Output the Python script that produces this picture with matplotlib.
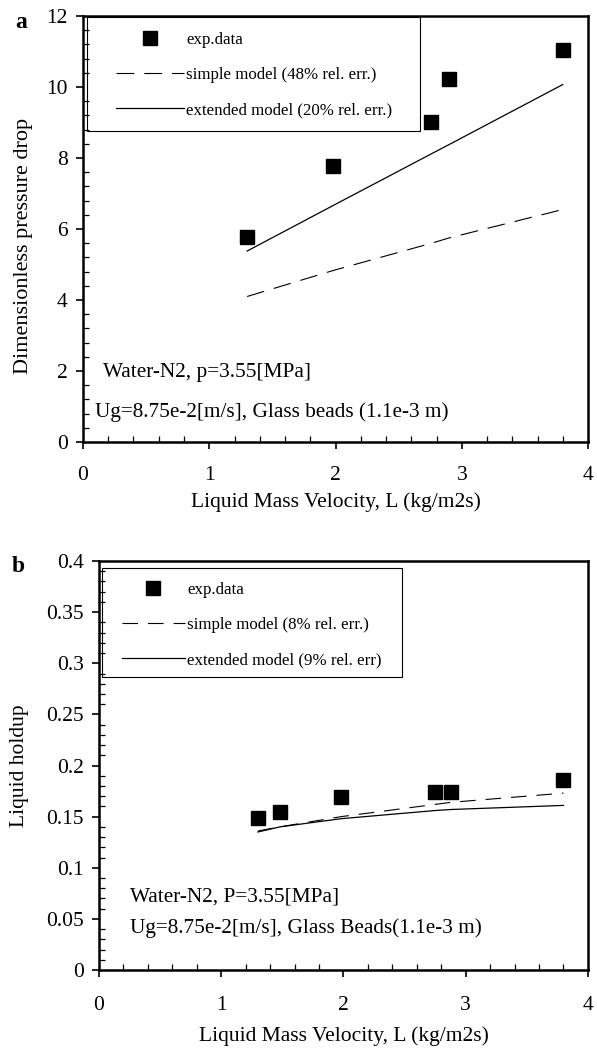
import matplotlib
matplotlib.use("Agg")
import matplotlib.pyplot as plt
from matplotlib.patches import Rectangle
from matplotlib.ticker import MultipleLocator

plt.rcParams['font.family'] = ['Liberation Serif', 'DejaVu Serif']

# ===== data (a): dimensionless pressure drop =====
L_exp_a = [1.3, 1.98, 2.76, 2.9, 3.8]
dp_exp = [5.78, 7.78, 9.02, 10.23, 11.05]
L_model_a = [1.3, 1.98, 2.76, 2.9, 3.8]
dp_simple = [4.10, 4.83, 5.60, 5.75, 6.55]
dp_extended = [5.38, 6.66, 8.12, 8.38, 10.07]

# ===== data (b): liquid holdup =====
L_exp_b = [1.3, 1.48, 1.98, 2.75, 2.88, 3.8]
hold_exp = [0.149, 0.155, 0.169, 0.174, 0.174, 0.186]
L_model_b = [1.3, 1.48, 1.98, 2.75, 2.88, 3.8]
hold_simple = [0.136, 0.140, 0.150, 0.162, 0.164, 0.173]
hold_extended = [0.135, 0.140, 0.148, 0.156, 0.157, 0.161]

fig = plt.figure(figsize=(5.97, 10.53), dpi=100)


def style_axes(ax, ymax, ymajor, yminor, xpad):
    ax.set_xlim(0, 4)
    ax.set_ylim(0, ymax)
    ax.xaxis.set_major_locator(MultipleLocator(1))
    ax.xaxis.set_minor_locator(MultipleLocator(0.2))
    ax.yaxis.set_major_locator(MultipleLocator(ymajor))
    ax.yaxis.set_minor_locator(MultipleLocator(yminor))
    ax.tick_params(which='major', direction='out', length=5, width=1.2,
                   labelsize=15.5)
    ax.tick_params(axis='x', which='major', pad=xpad)
    ax.tick_params(axis='y', which='major', pad=6)
    ax.tick_params(which='minor', direction='in', length=4, width=0.9)
    for s in ax.spines.values():
        s.set_linewidth(1.8)


def add_legend(ax, labels, box, anchor, hlen):
    h = ax.get_legend_handles_labels()[0]
    ax.add_patch(Rectangle((box[0], box[1]), box[2], box[3],
                           transform=ax.transAxes, fill=False, lw=0.8,
                           ec='black', zorder=4))
    leg = ax.legend(h, labels, loc='upper left', bbox_to_anchor=anchor,
                    frameon=False, fontsize=12.2, handlelength=hlen,
                    handletextpad=0.15, labelspacing=1.13, borderpad=0,
                    borderaxespad=0)
    return leg


# ===== (a) =====
ax1 = fig.add_axes([0.139, 0.5802, 0.846, 0.4046])
ax1.plot(L_exp_a, dp_exp, 's', color='black', ms=10.5, label='exp.data')
ax1.plot(L_model_a, dp_simple, color='black', lw=0.8, dashes=(16, 9),
         label='simple model')
ax1.plot(L_model_a, dp_extended, color='black', lw=0.9, label='extended model')
style_axes(ax1, 12, 2, 0.4, 12)
ax1.set_xlabel('Liquid Mass Velocity, L (kg/m2s)', fontsize=15.5)
ax1.xaxis.set_label_coords(0.5, -0.117)
ax1.set_ylabel('Dimensionless pressure drop', fontsize=16)
ax1.yaxis.set_label_coords(-0.099, 0.46)
add_legend(ax1, ['exp.data', 'simple model (48% rel. err.)',
                 'extended model (20% rel. err.)'],
           (0.008, 0.730, 0.659, 0.268), (0.065, 0.963), 4.0)
ax1.text(0.04, 0.164, 'Water-N2, p=3.55[MPa]', transform=ax1.transAxes,
         fontsize=15.3, va='center')
ax1.text(0.023, 0.071, 'Ug=8.75e-2[m/s], Glass beads (1.1e-3 m)',
         transform=ax1.transAxes, fontsize=15.3, va='center')
fig.text(21 / 597, 1 - 22 / 1053, 'a', fontsize=17, fontweight='bold',
         ha='center', va='center')

# ===== (b) =====
ax2 = fig.add_axes([0.1658, 0.0788, 0.819, 0.3884])
ax2.plot(L_exp_b, hold_exp, 's', color='black', ms=9.5, label='exp.data')
ax2.plot(L_model_b, hold_simple, color='black', lw=0.8, dashes=(14, 9),
         label='simple model')
ax2.plot(L_model_b, hold_extended, color='black', lw=0.9, label='extended model')
style_axes(ax2, 0.4, 0.05, 0.01, 14)
ax2.set_xlabel('Liquid Mass Velocity, L (kg/m2s)', fontsize=15.5)
ax2.xaxis.set_label_coords(0.5, -0.137)
ax2.set_ylabel('Liquid holdup', fontsize=15.5)
ax2.yaxis.set_label_coords(-0.143, 0.5)
ax2.yaxis.set_major_formatter(plt.FuncFormatter(lambda v, p: ('%g' % round(v, 2))))
add_legend(ax2, ['exp.data', 'simple model (8% rel. err.)',
                 'extended model (9% rel. err)'],
           (0.006, 0.716, 0.614, 0.267), (0.047, 0.949), 3.7)
ax2.text(0.063, 0.178, 'Water-N2, P=3.55[MPa]', transform=ax2.transAxes,
         fontsize=15.3, va='center')
ax2.text(0.063, 0.103, 'Ug=8.75e-2[m/s], Glass Beads(1.1e-3 m)',
         transform=ax2.transAxes, fontsize=15.3, va='center')
fig.text(18 / 597, 1 - 567 / 1053, 'b', fontsize=17, fontweight='bold',
         ha='center', va='center')

fig.savefig('out.png', dpi=100)
